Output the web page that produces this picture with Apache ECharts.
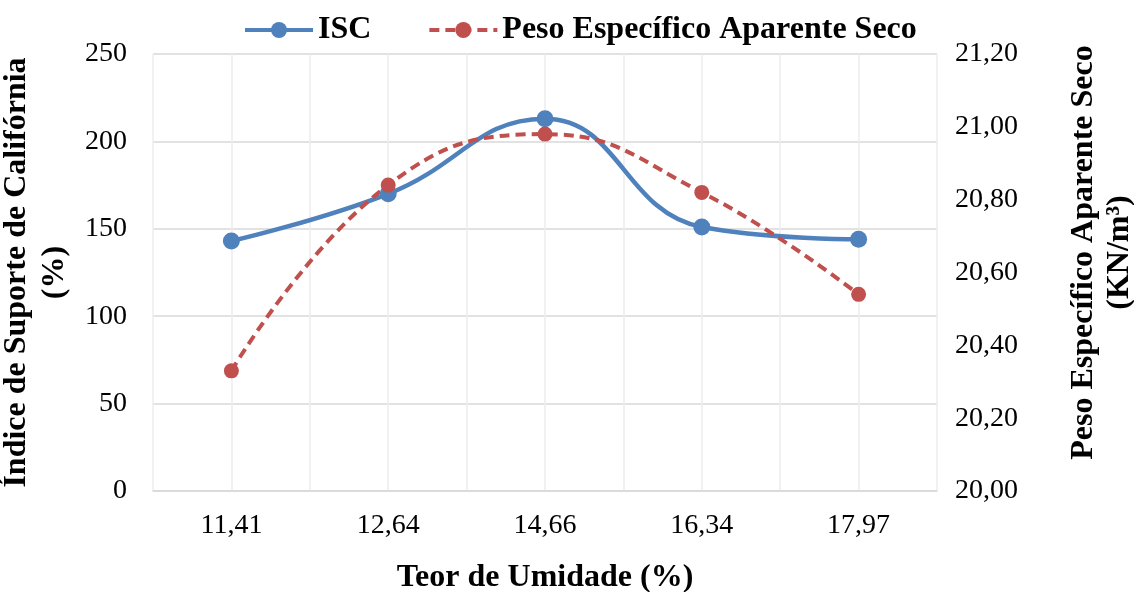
<!DOCTYPE html>
<html>
<head>
<meta charset="utf-8">
<script src="https://cdn.jsdelivr.net/npm/echarts@6/dist/echarts.min.js"></script>
<style>
  html, body { margin: 0; padding: 0; background: #fff; }
  #chart { width: 1134px; height: 592px; }
</style>
</head>
<body>
<div id="chart"></div>
<script>
// Moisture content categories (%)
const categories = ['11,41', '12,64', '14,66', '16,34', '17,97'];
// California Bearing Ratio (%)
const iscValues = [143, 170, 213, 151, 144];
// Dry unit weight (kN/m³)
const pesoValues = [20.33, 20.84, 20.98, 20.82, 20.54];
// Left and right axis ranges
const leftAxis = { min: 0, max: 250, interval: 50 };
const rightAxis = { min: 20.0, max: 21.2, interval: 0.2 };
// Half-category gridline slots (grid lines at centers and boundaries)
const halfSlots = new Array(categories.length * 2).fill('');

const FONT = '"Liberation Serif", "Times New Roman", serif';
const BLUE = '#4F81BD';
const RED = '#C0504D';

const chart = echarts.init(document.getElementById('chart'), null, { renderer: 'canvas' });

chart.setOption({
  animation: false,
  backgroundColor: '#ffffff',
  textStyle: { fontFamily: FONT },
  grid: { left: 153, right: 197, top: 54, bottom: 101, containLabel: false, outerBoundsMode: 'none' },
  legend: {
    top: 9,
    left: 238,
    itemWidth: 68,
    itemHeight: 20,
    itemGap: 56,
    lineStyle: { width: 4 },
    textStyle: { fontFamily: FONT, fontSize: 32, fontWeight: 'bold', color: '#000' },
    data: ['ISC', 'Peso Específico Aparente Seco']
  },
  xAxis: [
    {
      type: 'category',
      data: categories,
      boundaryGap: true,
      axisLine: { show: true, lineStyle: { color: '#d9d9d9', width: 1.5 } },
      axisTick: { show: false },
      splitLine: { show: false },
      axisLabel: { fontFamily: FONT, fontSize: 28, color: '#000', margin: 21 },
      name: 'Teor de Umidade (%)',
      nameLocation: 'middle',
      nameGap: 71,
      nameTextStyle: { fontFamily: FONT, fontSize: 32, fontWeight: 'bold', color: '#000' }
    },
    {
      type: 'category',
      data: halfSlots,
      boundaryGap: true,
      position: 'bottom',
      axisLine: { show: false },
      axisTick: { show: false },
      axisLabel: { show: false },
      splitLine: { show: true, interval: 0, lineStyle: { color: '#ececec', width: 1.5 } }
    }
  ],
  yAxis: [
    {
      type: 'value',
      min: leftAxis.min,
      max: leftAxis.max,
      interval: leftAxis.interval,
      axisLine: { show: false },
      axisTick: { show: false },
      splitLine: { show: true, lineStyle: { color: '#d9d9d9', width: 1.5 } },
      axisLabel: { fontFamily: FONT, fontSize: 28, color: '#000', margin: 26 },
      name: 'Índice de Suporte de Califórnia\n(%)',
      nameLocation: 'middle',
      nameGap: 66,
      nameTextStyle: { fontFamily: FONT, fontSize: 32, fontWeight: 'bold', color: '#000', lineHeight: 38 }
    },
    {
      type: 'value',
      min: rightAxis.min,
      max: rightAxis.max,
      interval: rightAxis.interval,
      axisLine: { show: false },
      axisTick: { show: false },
      splitLine: { show: false },
      axisLabel: {
        fontFamily: FONT, fontSize: 28, color: '#000', margin: 18,
        formatter: v => v.toFixed(2).replace('.', ',')
      },
      name: 'Peso Específico Aparente Seco\n(KN/m³)',
      nameLocation: 'middle',
      nameGap: 129,
      nameTextStyle: {
        fontFamily: FONT, fontSize: 32, fontWeight: 'bold', color: '#000', lineHeight: 36,
        padding: [0, 0, 0, 40]
      }
    }
  ],
  series: [
    {
      name: 'ISC',
      type: 'line',
      data: iscValues,
      yAxisIndex: 0,
      xAxisIndex: 0,
      smooth: 0.45,
      symbol: 'circle',
      symbolSize: 17,
      itemStyle: { color: BLUE },
      lineStyle: { color: BLUE, width: 4.5 }
    },
    {
      name: 'Peso Específico Aparente Seco',
      type: 'line',
      data: pesoValues,
      yAxisIndex: 1,
      xAxisIndex: 0,
      smooth: 0.45,
      symbol: 'circle',
      symbolSize: 15,
      itemStyle: { color: RED },
      lineStyle: { color: RED, width: 4, type: [10, 6] }
    }
  ]
});
</script>
</body>
</html>
